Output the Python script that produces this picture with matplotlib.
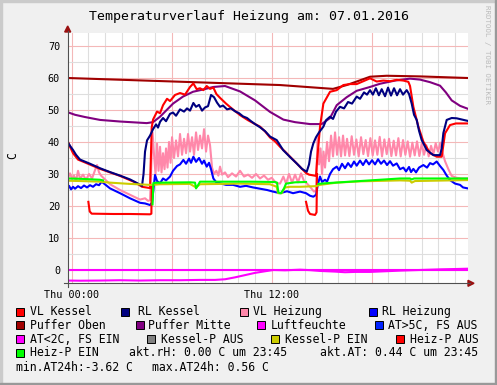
import numpy as np
import matplotlib
matplotlib.use("Agg")
import matplotlib.pyplot as plt
from matplotlib.patches import Rectangle, Polygon
from matplotlib.lines import Line2D
import matplotlib.transforms as mtrans

nan = np.nan

# ---- data (hours since Thu 00:00, degrees C) ----
t_puffer_oben = [-0.24, 12.5, 15.68, 16.5, 17.1, 17.9, 18.9, 20.9, 23.76]
v_puffer_oben = [60.0, 57.8, 56.6, 57.8, 58.9, 60.4, 60.7, 60.5, 60.0]

t_puffer_mitte = [-0.24, 0.2, 0.8, 1.7, 2.9, 4.5, 4.88, 5.3, 6.08, 6.68, 7.28, 7.88, 8.5, 9.2,
                  10.1, 11.0, 11.9, 12.7, 13.4, 14.3, 15.0, 15.5, 15.9, 16.5, 17.1, 17.9, 18.5,
                  19.4, 20.3, 20.9, 21.5, 22.1, 22.45, 22.8, 23.3, 23.76]
v_puffer_mitte = [49.3, 48.5, 47.8, 46.9, 46.4, 45.9, 46.2, 47.9, 52.0, 54.2, 55.7, 56.4, 57.2, 57.5,
                  55.8, 53.0, 49.4, 47.0, 46.2, 45.6, 45.6, 47.5, 51.5, 54.0, 56.0, 57.2, 58.2,
                  59.2, 59.8, 59.5, 58.7, 57.6, 55.5, 53.0, 51.3, 50.4]

t_vl_kessel = [-0.24, -0.1, 0.08, 0.38, 0.8, 1.7, 2.9, 3.8, 4.22, 4.7, 4.8, 4.88, 5.12, 5.3, 5.48,
               5.72, 5.9, 6.2, 6.5, 6.8, 7.1, 7.3, 7.5, 7.7, 7.9, 8.1, 8.3, 8.5, 8.68, 8.9, 9.26,
               9.6, 10.1, 10.58, 11.0, 11.3, 11.6, 11.9, 12.2, 12.5, 12.8, 13.5, 14.06, 14.24,
               14.66, 14.72, 14.9, 15.1, 15.5, 15.9, 16.3, 16.7, 17.1, 17.5, 17.9, 18.3, 18.7,
               19.1, 19.5, 19.9, 20.2, 20.3, 20.5, 20.8, 21.1, 21.5, 21.9, 22.2, 22.4, 22.7,
               23.05, 23.76]
v_vl_kessel = [40.3, 38.5, 36.5, 34.5, 33.6, 31.6, 29.4, 27.4, 26.0, 25.6, 44.5, 47.0, 49.5, 49.0, 51.5,
               53.5, 52.8, 54.7, 55.3, 54.8, 57.2, 58.3, 56.5, 56.8, 56.2, 57.5, 56.6, 57.0, 55.0, 53.8, 52.0,
               50.5, 48.4, 46.8, 45.6, 44.8, 43.3, 41.4, 40.2, 38.5, 37.0, 33.3, 30.3, 29.8,
               29.4, 34.0, 44.8, 52.0, 55.7, 56.2, 57.8, 58.1, 58.1, 59.0, 59.9, 58.9, 59.2,
               59.0, 59.4, 59.2, 58.8, 57.5, 51.0, 44.8, 40.1, 36.5, 35.4, 35.4, 42.7, 45.3,
               45.8, 45.8]

# red dips (Heiz-P AUS)
t_heizp_aus = [1.0, 1.08, 1.2, 2.5, 3.5, 4.7, 4.78, 4.8, nan, 14.06, 14.18, 14.3, 14.6, 14.69, 14.72]
v_heizp_aus = [21.3, 18.3, 17.6, 17.5, 17.5, 17.4, 17.6, 26.0, nan, 21.3, 18.5, 17.5, 17.2, 18.0, 30.0]

t_rl_kessel = [-0.24, -0.1, 0.08, 0.26, 0.5, 1.1, 1.7, 2.3, 2.9, 3.5, 3.98, 4.22, 4.31, 4.4, 4.52,
               4.7, 4.88, 5.06, 5.18, 5.3, 5.48, 5.66, 5.9, 6.08, 6.26, 6.5, 6.74, 6.92, 7.1, 7.3,
               7.46, 7.64, 7.82, 8.0, 8.18, 8.36, 8.54, 8.72, 8.9, 9.08, 9.32, 9.56, 9.8, 10.04,
               10.28, 10.52, 10.76, 11.0, 11.3, 11.6, 11.9, 12.3, 12.5, 12.68, 13.1, 13.5, 13.82,
               14.1, 14.24, 14.36, 14.5, 14.66, 14.84, 15.1, 15.26, 15.5, 15.68, 15.86, 16.1,
               16.34, 16.58, 16.82, 17.1, 17.3, 17.54, 17.72, 17.9, 18.07, 18.25, 18.43, 18.6,
               18.8, 18.98, 19.16, 19.34, 19.52, 19.7, 19.88, 20.1, 20.24, 20.4, 20.54, 20.7,
               20.84, 21.0, 21.3, 21.7, 22.1, 22.2, 22.3, 22.5, 22.8, 23.1, 23.76]
v_rl_kessel = [40.0, 38.8, 37.5, 36.0, 34.5, 33.2, 31.8, 30.6, 29.5, 28.3, 27.0, 26.3, 30.0, 37.0, 40.5,
               42.0, 44.0, 45.5, 44.5, 46.3, 47.5, 46.5, 48.8, 49.2, 48.2, 50.2, 49.5, 50.5, 49.8, 52.2,
               51.0, 51.6, 49.8, 50.8, 51.2, 54.7, 54.0, 52.3, 51.0, 51.4, 50.2, 50.5, 49.6, 49.0,
               48.0, 47.5, 46.5, 45.6, 44.6, 43.4, 41.7, 40.6, 39.0, 37.5, 35.3, 33.3, 31.6,
               30.7, 33.0, 37.0, 39.6, 41.5, 43.0, 44.8, 46.8, 47.9, 47.2, 49.5, 51.0,
               50.5, 52.5, 52.0, 54.2, 53.5, 55.5, 54.8, 56.2, 54.8, 56.8, 54.6, 56.5,
               54.3, 57.0, 54.5, 56.8, 54.6, 56.5, 54.8, 56.2, 55.0, 52.0, 48.5, 46.9,
               43.5, 40.6, 37.5, 35.9, 35.9, 38.0, 42.8, 46.9, 47.5, 47.4, 46.6]

t_vl_heizung = [-0.24, -0.1, 0.02, 0.14, 0.26, 0.38, 0.5, 0.68, 0.86, 1.04, 1.22, 1.4, 1.52, 1.64,
                1.76, 1.94, 2.3, 2.9, 3.5, 4.1, 4.4, 4.58, 4.7, 4.79, 4.85, 4.94, 5.03, 5.12,
                5.21, 5.3, 5.39, 5.48, 5.57, 5.66, 5.75, 5.84, 5.93, 6.02, 6.14, 6.26, 6.38,
                6.5, 6.62, 6.74, 6.86, 6.98, 7.1, 7.22, 7.34, 7.46, 7.58, 7.7, 7.82, 7.94, 8.06,
                8.18, 8.3, 8.42, 8.54, 8.68, 8.8, 8.9, 9.02, 9.2, 9.38, 9.62, 9.86, 10.1, 10.34,
                10.58, 10.82, 11.06, 11.3, 11.54, 11.78, 12.0, 12.26, 12.5, 12.7, 12.86, 13.04,
                13.22, 13.4, 13.58, 13.76, 13.94, 14.12, 14.3, 14.54, 14.66, 14.75, 14.84, 14.93,
                15.02, 15.11, 15.2, 15.32, 15.44, 15.56, 15.68, 15.8, 15.92, 16.04, 16.16, 16.28,
                16.4, 16.52, 16.66, 16.8, 16.94, 17.08, 17.22, 17.36, 17.5, 17.64, 17.78, 17.92,
                18.06, 18.2, 18.34, 18.48, 18.62, 18.76, 18.9, 19.04, 19.18, 19.32, 19.46, 19.6,
                19.74, 19.88, 20.02, 20.16, 20.3, 20.44, 20.58, 20.72, 20.86, 21.0, 21.14, 21.28,
                21.42, 21.56, 21.7, 21.84, 21.98, 22.12, 22.26, 22.4, 22.6, 22.8, 23.1, 23.4, 23.76]
v_vl_heizung = [28.5, 30.2, 28.5, 29.5, 27.8, 31.0, 28.5, 29.8, 28.2, 30.0, 28.6, 31.2, 32.8, 30.5,
                29.5, 28.6, 26.8, 25.0, 23.5, 22.0, 22.4, 21.6, 21.8, 35.0, 43.0, 36.0, 30.0, 39.5,
                31.0, 38.5, 30.5, 36.5, 31.5, 38.0, 32.0, 40.0, 33.5, 41.5, 35.0, 40.5, 35.5,
                42.5, 36.0, 41.0, 36.5, 42.5, 37.0, 41.5, 36.0, 43.0, 37.5, 42.0, 38.0, 44.0, 37.0,
                42.0, 39.0, 32.0, 30.0, 31.0, 29.5, 32.3, 29.8, 30.5, 29.0, 30.2, 29.2, 31.0, 29.2,
                29.8, 28.8, 30.0, 28.6, 29.5, 28.2, 28.8, 27.2, 27.0, 29.2, 27.0, 30.0,
                27.3, 29.8, 27.4, 30.2, 27.8, 27.0, 26.0, 24.5, 25.0, 41.5, 33.0, 38.0,
                30.0, 37.0, 32.0, 40.0, 34.0, 42.0, 35.5, 43.0, 36.0, 41.5, 35.5, 42.0,
                35.8, 41.0, 35.6, 41.8, 36.0, 40.8, 35.5, 41.5, 36.2, 40.6, 35.6, 41.2,
                35.8, 40.5, 36.0, 41.6, 35.5, 40.8, 36.2, 41.0, 35.6, 40.4, 35.8, 41.2,
                35.5, 40.6, 36.0, 40.2, 35.4, 39.8, 35.8, 40.2, 35.6, 39.5, 36.0, 39.0,
                35.5, 38.8, 36.2, 39.6, 37.0, 39.8, 36.5, 34.0, 31.5, 29.4, 28.8, 28.6, 28.6]

t_rl_heizung = [-0.24, -0.16, -0.04, 0.08, 0.2, 0.38, 0.56, 0.74, 0.92, 1.1, 1.28, 1.46, 1.64, 1.8,
                1.94, 2.3, 2.9, 3.5, 4.1, 4.4, 4.7, 4.82, 4.94, 5.0, 5.12, 5.3, 5.48, 5.66, 5.9,
                6.08, 6.32, 6.5, 6.7, 6.86, 7.04, 7.16, 7.3, 7.46, 7.64, 7.82, 7.94, 8.1, 8.24,
                8.36, 8.5, 8.66, 8.9, 9.26, 9.68, 10.1, 10.46, 10.88, 11.3, 11.72, 12.08, 12.5,
                12.92, 13.28, 13.7, 14.06, 14.3, 14.5, 14.66, 14.78, 14.9, 15.02, 15.2, 15.32,
                15.5, 15.68, 15.9, 16.04, 16.22, 16.4, 16.58, 16.76, 16.94, 17.1, 17.3, 17.48,
                17.66, 17.84, 18.02, 18.2, 18.38, 18.56, 18.74, 18.92, 19.1, 19.28, 19.5, 19.7,
                19.9, 20.06, 20.24, 20.36, 20.5, 20.66, 20.84, 21.1, 21.32, 21.5, 21.68, 21.9,
                22.1, 22.3, 22.5, 22.7, 23.0, 23.3, 23.48, 23.76]
v_rl_heizung = [25.5, 26.3, 25.2, 26.0, 25.4, 26.2, 25.6, 26.4, 25.8, 26.5, 26.0, 26.8, 26.5, 27.6,
                27.0, 25.5, 24.0, 22.4, 21.0, 20.8, 20.3, 21.0, 27.0, 29.7, 27.8, 27.1, 28.6, 28.0, 29.2,
                31.0, 32.5, 33.0, 34.4, 33.2, 34.8, 33.5, 35.4, 33.8, 35.0, 33.2, 34.2, 32.3, 33.5,
                31.5, 28.6, 27.5, 27.1, 26.6, 26.6, 26.0, 26.3, 25.8, 25.4, 25.0, 24.5, 24.0,
                24.6, 24.0, 24.5, 24.0, 23.2, 22.9, 23.5, 27.0, 29.2, 27.5, 28.2, 27.6,
                30.0, 31.5, 32.3, 31.2, 33.2, 31.8, 33.4, 32.2, 33.9, 32.6, 34.2, 32.8,
                34.4, 33.0, 34.3, 33.0, 34.6, 33.2, 34.2, 32.8, 34.0, 32.6, 33.3, 31.5,
                32.0, 30.8, 32.2, 30.6, 31.6, 30.5, 32.0, 32.8, 32.0, 33.4, 33.0, 33.9,
                32.5, 31.25, 29.5, 28.1, 27.0, 26.6, 25.8, 25.5]

t_kesselp_ein = [-0.24, 0.5, 1.7, 2.3, 3.5, 4.7, 4.82, 5.3, 7.1, 7.46, 7.7, 10.1, 11.9, 12.3, 12.38,
                 12.6, 12.8, 13.1, 13.7, 14.66, 14.9, 15.9, 17.3, 19.7, 20.3, 20.4, 20.6, 23.76]
v_kesselp_ein = [27.9, 27.8, 27.6, 27.3, 26.9, 26.6, 26.6, 26.8, 26.9, 25.8, 26.8, 27.0, 26.8, 26.0, 24.0,
                 24.0, 25.8, 26.0, 26.0, 26.2, 26.6, 27.3, 27.7, 28.0, 27.9, 27.3, 27.8, 28.1]

t_heizp_ein = [-0.24, 0.5, 1.7, 1.88, nan, 4.85, 4.9, 5.3, 7.1, 7.4, 7.46, 7.58, 7.7, 8.9, 10.7, 12.2,
               12.32, 12.4, 12.56, 12.74, 12.86, 13.4, 14.06, nan, 14.8, 15.2, 16.1, 17.3, 18.5,
               19.7, 20.3, 20.4, 20.54, 22.1, 23.76]
v_heizp_ein = [28.6, 28.5, 28.2, 28.0, nan, 20.5, 27.2, 27.3, 27.4, 27.3, 25.5, 26.5, 27.6, 27.6, 27.6, 27.5,
               27.3, 24.2, 24.0, 25.5, 27.0, 27.4, 27.5, nan, 26.9, 27.1, 27.4, 27.8, 28.2,
               28.6, 28.6, 28.3, 28.6, 28.6, 28.6]

t_luftfeuchte = [-0.24, 23.76]
v_luftfeuchte = [0.0, 0.0]

t_at = [-0.24, 0.5, 1.7, 2.9, 4.1, 5.3, 6.5, 7.7, 8.6, 9.2, 9.8, 10.4, 11.0, 11.6, 12.1, 12.8,
        13.7, 14.3, 14.9, 15.8, 16.4, 17.0, 17.9, 18.8, 19.7, 20.9, 22.1, 23.0, 23.76]
v_at = [-3.3, -3.35, -3.3, -3.2, -3.3, -3.2, -3.2, -3.1, -3.1, -2.9, -2.3, -1.6, -0.9, -0.4, 0.0, -0.1,
        0.1, -0.05, -0.3, -0.5, -0.7, -0.6, -0.6, -0.4, -0.2, 0.0, 0.2, 0.3, 0.4]

title = "Temperaturverlauf Heizung am: 07.01.2016"
x_tick_pos = [0, 12]
x_tick_labels = ["Thu 00:00", "Thu 12:00"]
y_ticks = [0, 10, 20, 30, 40, 50, 60, 70]

# legend rows: (label, colour, box x, text x)
legend_rows = [
    [("VL Kessel", "#FF0000", 16, 30), ("RL Kessel", "#000080", 121, 138),
     ("VL Heizung", "#FF88AA", 240, 253), ("RL Heizung", "#0000FF", 368.5, 382)],
    [("Puffer Oben", "#A00000", 16, 30), ("Puffer Mitte", "#800080", 136, 147.5),
     ("Luftfeuchte", "#FF00FF", 257, 271), ("AT>5C, FS AUS", "#0022FF", 374.5, 388)],
    [("AT<2C, FS EIN", "#FF00FF", 16, 30), ("Kessel-P AUS", "#808080", 147, 161),
     ("Kessel-P EIN", "#CCCC00", 271, 285), ("Heiz-P AUS", "#FF0000", 395.5, 409.5)],
    [("Heiz-P EIN", "#00FF00", 16, 30)],
]
row_y = [311.5, 325.2, 339.2, 353.0]
info_lines = [("akt.rH: 0.00 C um 23:45", 129, 353.0), ("akt.AT: 0.44 C um 23:45", 319.5, 353.0),
              ("min.AT24h:-3.62 C", 16, 367.3), ("max.AT24h: 0.56 C", 151.5, 367.3)]

W, H = 497, 385
fig = plt.figure(figsize=(W / 100, H / 100), dpi=100)
fig.patch.set_facecolor("#F0F0F0")
pix = mtrans.Affine2D().scale(1.0 / W, -1.0 / H).translate(0, 1) + fig.transFigure

X0, X1, Y0, Y1 = 67.7, 467.7, 33.3, 283.3
ax = fig.add_axes([X0 / W, 1 - Y1 / H, (X1 - X0) / W, (Y1 - Y0) / H])
ax.set_facecolor("white")
ax.set_xlim(-0.24, 23.76)
ax.set_ylim(-4.16, 73.97)
for s in ax.spines.values():
    s.set_visible(False)

# grid
for h in range(0, 24):
    c = "#F4B8B8" if h % 6 == 0 else "#DEDEDE"
    ax.axvline(h, color=c, lw=0.8, zorder=0)
for v in range(0, 75, 5):
    c = "#F4B8B8" if v % 10 == 0 else "#DEDEDE"
    ax.axhline(v, color=c, lw=0.8, zorder=0)

lw = 1.5
ax.plot(t_luftfeuchte, v_luftfeuchte, color="#FF00FF", lw=lw)
ax.plot(t_at, v_at, color="#FF00FF", lw=lw)
ax.plot(t_vl_heizung, v_vl_heizung, color="#FF88AA", lw=lw)
ax.plot(t_rl_heizung, v_rl_heizung, color="#0000FF", lw=lw)
ax.plot(t_puffer_oben, v_puffer_oben, color="#A00000", lw=lw)
ax.plot(t_puffer_mitte, v_puffer_mitte, color="#800080", lw=lw)
ax.plot(t_vl_kessel, v_vl_kessel, color="#FF0000", lw=lw)
ax.plot(t_heizp_aus, v_heizp_aus, color="#FF0000", lw=lw)
ax.plot(t_rl_kessel, v_rl_kessel, color="#000080", lw=lw)
ax.plot(t_kesselp_ein, v_kesselp_ein, color="#CCCC00", lw=lw)
ax.plot(t_heizp_ein, v_heizp_ein, color="#00FF00", lw=lw)

mono = "DejaVu Sans Mono"
ax.set_xticks(x_tick_pos)
ax.set_xticklabels(x_tick_labels, fontfamily=mono, fontsize=7.3)
ax.set_yticks(y_ticks)
ax.set_yticklabels([str(v) for v in y_ticks], fontfamily=mono, fontsize=7.3)
ax.tick_params(axis="x", length=0, pad=4.5)
ax.tick_params(axis="y", length=0, pad=5.5)

# axes lines and arrows
fig.add_artist(Line2D([63.5, 470], [Y1, Y1], color="#505050", lw=0.8, transform=pix))
fig.add_artist(Line2D([X0, X0], [287, 31], color="#505050", lw=0.8, transform=pix))
fig.add_artist(Polygon([[468, 280.3], [474, 283.3], [468, 286.3]], closed=True,
                       color="#9A1010", transform=pix))
fig.add_artist(Polygon([[64.7, 32], [67.7, 26], [70.7, 32]], closed=True,
                       color="#9A1010", transform=pix))

# frame
fig.add_artist(Rectangle((0, 0), W, 2, color="#CBCBCB", transform=pix))
fig.add_artist(Rectangle((0, 0), 2, H, color="#CBCBCB", transform=pix))
fig.add_artist(Rectangle((W - 2, 0), 2, H, color="#999999", transform=pix))
fig.add_artist(Rectangle((0, H - 2), W, 2, color="#999999", transform=pix))

fig.text(249 / W, 1 - 16.5 / H, title, ha="center", va="center", fontfamily=mono, fontsize=9.5)
fig.text(13 / W, 1 - 156 / H, "C", ha="center", va="center", rotation=90,
         fontfamily=mono, fontsize=8.3)
fig.text(487.5 / W, 1 - 5 / H, "RRDTOOL / TOBI OETIKER", ha="center", va="top", rotation=270,
         fontfamily=mono, fontsize=5.3, color="#BBBBBB")

for row, yy in zip(legend_rows, row_y):
    for label, col, bx, tx in row:
        fig.add_artist(Rectangle((bx, yy - 4), 8, 8, facecolor=col, edgecolor="black",
                                 lw=0.7, transform=pix))
        fig.text(tx / W, 1 - yy / H, label, ha="left", va="center", fontfamily=mono, fontsize=8.3)
for txt, tx, yy in info_lines:
    fig.text(tx / W, 1 - yy / H, txt, ha="left", va="center", fontfamily=mono, fontsize=8.3)

fig.savefig("out.png", dpi=100, facecolor=fig.get_facecolor())
